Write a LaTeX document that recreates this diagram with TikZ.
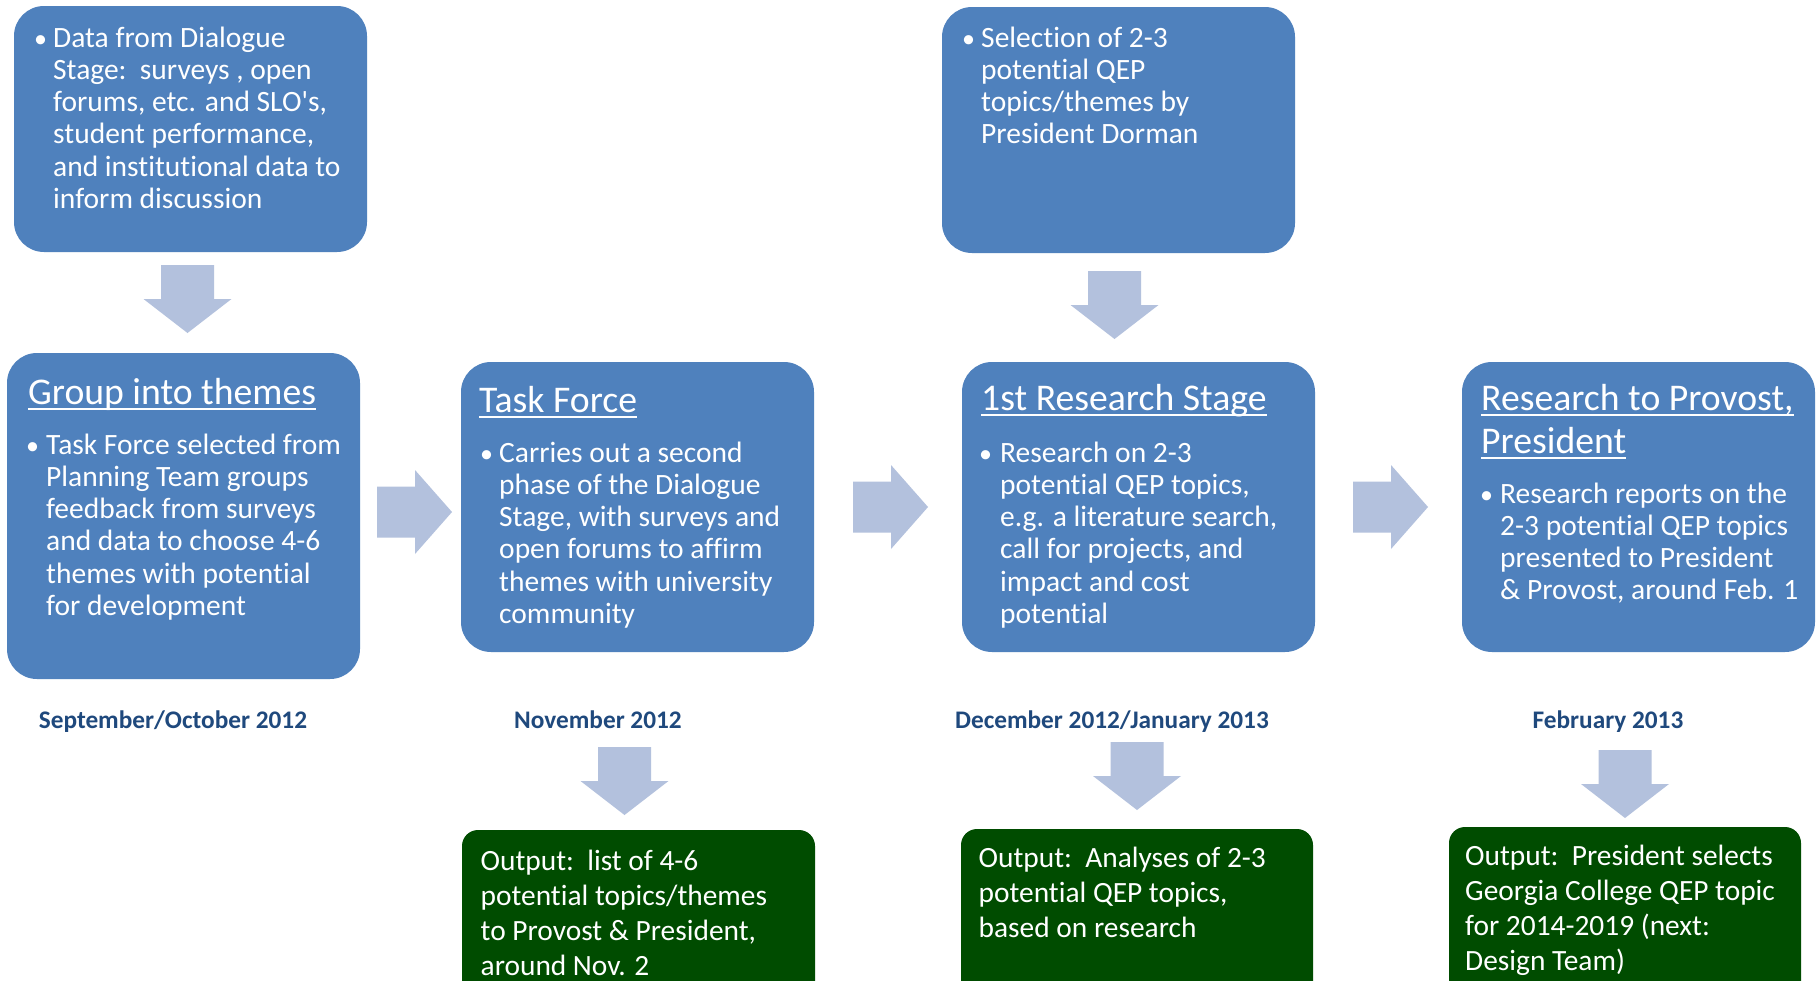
\documentclass[tikz,border=0pt]{standalone}
\usepackage{fontspec}
\setmainfont{Carlito}[Ligatures=NoCommon]
\definecolor{boxblue}{HTML}{4F81BD}
\definecolor{arrblue}{HTML}{B3C1DD}
\definecolor{outgreen}{HTML}{004C00}
\definecolor{datecol}{HTML}{1F497D}
\newcommand{\bodytext}[1]{\parbox[t]{12cm}{\fontsize{29.5}{32.3}\selectfont #1}}
\newcommand{\greentext}[1]{\parbox[t]{12cm}{\fontsize{29.4}{35.2}\selectfont #1}}
\begin{document}
\begin{tikzpicture}[x=1pt,y=-1pt,
  bluebox/.style={fill=boxblue,rounded corners=30pt},
  greenbox/.style={fill=outgreen,rounded corners=16pt},
  txt/.style={inner sep=0pt,anchor=base west,text=white},
  bul/.style={inner sep=0pt,anchor=base west,text=white,font=\fontsize{26}{30}\selectfont},
  head/.style={inner sep=0pt,anchor=base west,text=white,font=\fontsize{37.7}{43}\selectfont},
  datelab/.style={inner sep=0pt,anchor=base,text=datecol,font=\fontsize{25.3}{28}\selectfont\bfseries},
  uline/.style={draw=white,line width=2pt},
  blockarrow/.style={fill=arrblue},
  darr/.pic={\path[blockarrow] (-26.5,0) -- (26.5,0) -- (26.5,34) -- (44,34) -- (0,68) -- (-44,34) -- (-26.5,34) -- cycle;},
  rarr/.pic={\path[blockarrow] (0,-25.5) -- (38,-25.5) -- (38,-42) -- (75,0) -- (38,42) -- (38,25.5) -- (0,25.5) -- cycle;}
]
\path[use as bounding box,clip] (0,0) rectangle (1820,980);
\fill[white] (0,0) rectangle (1820,980);

% boxes
\path[bluebox] (14,6) rectangle (367,252);
\path[bluebox] (7,353) rectangle (360,679);
\path[bluebox] (461,362) rectangle (814,652);
\path[bluebox] (942,7) rectangle (1295,253);
\path[bluebox] (962,362) rectangle (1315,652);
\path[bluebox] (1462,362) rectangle (1815,652);
\path[greenbox] (462,830) rectangle (815,1010);
\path[greenbox] (961,829) rectangle (1313,1010);
\path[greenbox] (1449,827) rectangle (1801,1010);

% arrows
\coordinate (a1) at (187.5,265);
\coordinate (a2) at (1114.5,271);
\coordinate (r1) at (377,512);
\coordinate (r2) at (853,507);
\coordinate (r3) at (1353,507);
\coordinate (b1) at (624.5,747);
\coordinate (b2) at (1137,742);
\coordinate (b3) at (1625,750);
\pic at (a1) {darr};
\pic at (a2) {darr};
\pic at (b1) {darr};
\pic at (b2) {darr};
\pic at (b3) {darr};
\pic at (r1) {rarr};
\pic at (r2) {rarr};
\pic at (r3) {rarr};

% box A text
\node[bul] (bA) at (34,47) {•};
\node[txt] (tA) at (53,47) {\bodytext{Data from Dialogue\\Stage:\ \ surveys , open\\forums, etc. and SLO\textquotesingle s,\\student performance,\\and institutional data to\\inform discussion}};

% box B
\node[head] (hB) at (28,404) {Group into themes};
\draw[uline] ([yshift=-5pt]hB.base west) -- ([yshift=-5pt]hB.base east);
\node[bul] (bB) at (26,454) {•};
\node[txt] (tB) at (46,454) {\bodytext{Task Force selected from\\Planning Team groups\\feedback from surveys\\and data to choose 4-6\\themes with potential\\for development}};

% box C
\node[head] (hC) at (479,412) {Task Force};
\draw[uline] ([yshift=-5pt]hC.base west) -- ([yshift=-5pt]hC.base east);
\node[bul] (bC) at (480,462) {•};
\node[txt] (tC) at (499,462) {\bodytext{Carries out a second\\phase of the Dialogue\\Stage, with surveys and\\open forums to affirm\\themes with university\\community}};

% box E
\node[bul] (bE) at (962,47) {•};
\node[txt] (tE) at (981,47) {\bodytext{Selection of 2-3\\potential QEP\\topics/themes by\\President Dorman}};

% box D
\node[head] (hD) at (981,410) {1st Research Stage};
\draw[uline] ([yshift=-5pt]hD.base west) -- ([yshift=-5pt]hD.base east);
\node[bul] (bD) at (979,462) {•};
\node[txt] (tD) at (1000,462) {\bodytext{Research on 2-3\\potential QEP topics,\\e.g. a literature search,\\call for projects, and\\impact and cost\\potential}};

% box F
\node[head] (hF1) at (1481,410) {Research to Provost,};
\draw[uline] ([yshift=-5pt]hF1.base west) -- ([yshift=-5pt]hF1.base east);
\node[head] (hF2) at (1481,453) {President};
\draw[uline] ([yshift=-5pt]hF2.base west) -- ([yshift=-5pt]hF2.base east);
\node[bul] (bF) at (1480,503) {•};
\node[txt] (tF) at (1500,503) {\bodytext{Research reports on the\\2-3 potential QEP topics\\presented to President\\\& Provost, around Feb. 1}};

% dates
\node[datelab] (d1) at (173,728) {September/October 2012};
\node[datelab] (d2) at (598,728) {November 2012};
\node[datelab] (d3) at (1112,728) {December 2012/January 2013};
\node[datelab] (d4) at (1608,728) {February 2013};

% green texts
\node[txt] (g1) at (480.5,870) {\greentext{Output:\ \ list of 4-6\\potential topics/themes\\to Provost \& President,\\around Nov. 2}};
\node[txt] (g2) at (978.5,867) {\greentext{Output:\ \ Analyses of 2-3\\potential QEP topics,\\based on research}};
\node[txt] (g3) at (1465,865) {\greentext{Output:\ \ President selects\\Georgia College QEP topic\\for 2014-2019 (next:\\Design Team)}};
\end{tikzpicture}
\end{document}
